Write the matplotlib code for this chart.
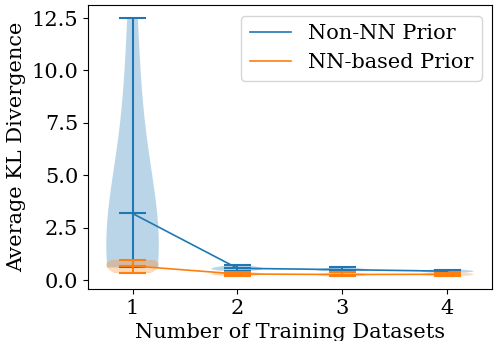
import matplotlib
matplotlib.use("Agg")
import matplotlib.pyplot as plt
import numpy as np

plt.rcParams['font.family'] = 'DejaVu Serif'
plt.rcParams['font.size'] = 15

# number of training datasets
n_datasets = [1, 2, 3, 4]

# KL divergence samples per setting
non_nn_1 = [0.6, 0.6, 0.65, 0.7, 0.75, 0.8, 0.9, 1.0, 1.0, 1.1,
            1.3, 1.6, 2.0, 3.0, 3.5, 4.5, 7.0, 9.0, 11.0, 12.5]
non_nn_2 = [0.45, 0.5, 0.52, 0.55, 0.58, 0.6, 0.72]
non_nn_3 = [0.42, 0.45, 0.48, 0.5, 0.52, 0.6]
non_nn_4 = [0.36, 0.4, 0.42, 0.44, 0.5]

nn_1 = [0.33, 0.4, 0.5, 0.6, 0.8, 0.88, 0.92, 0.96]
nn_2 = [0.2, 0.25, 0.28, 0.3, 0.32, 0.38]
nn_3 = [0.18, 0.22, 0.25, 0.27, 0.3, 0.36]
nn_4 = [0.2, 0.24, 0.27, 0.3, 0.36]

non_nn = [non_nn_1, non_nn_2, non_nn_3, non_nn_4]
nn = [nn_1, nn_2, nn_3, nn_4]

fig, ax = plt.subplots(figsize=(4.94, 3.41), dpi=100)

ax.violinplot(non_nn, positions=n_datasets, showmeans=True, bw_method=1.0)
ax.violinplot(nn, positions=n_datasets, showmeans=True, bw_method=1.0)

ax.plot(n_datasets, [np.mean(d) for d in non_nn], color='C0', lw=1.2, label='Non-NN Prior')
ax.plot(n_datasets, [np.mean(d) for d in nn], color='C1', lw=1.2, label='NN-based Prior')

ax.set_xticks(n_datasets)
ax.set_xlabel('Number of Training Datasets', labelpad=4)
ax.set_ylabel('Average KL Divergence')
ax.legend(loc='upper right')

fig.subplots_adjust(left=0.178, right=0.996, top=0.985, bottom=0.152)
fig.savefig('out.png', dpi=100)
